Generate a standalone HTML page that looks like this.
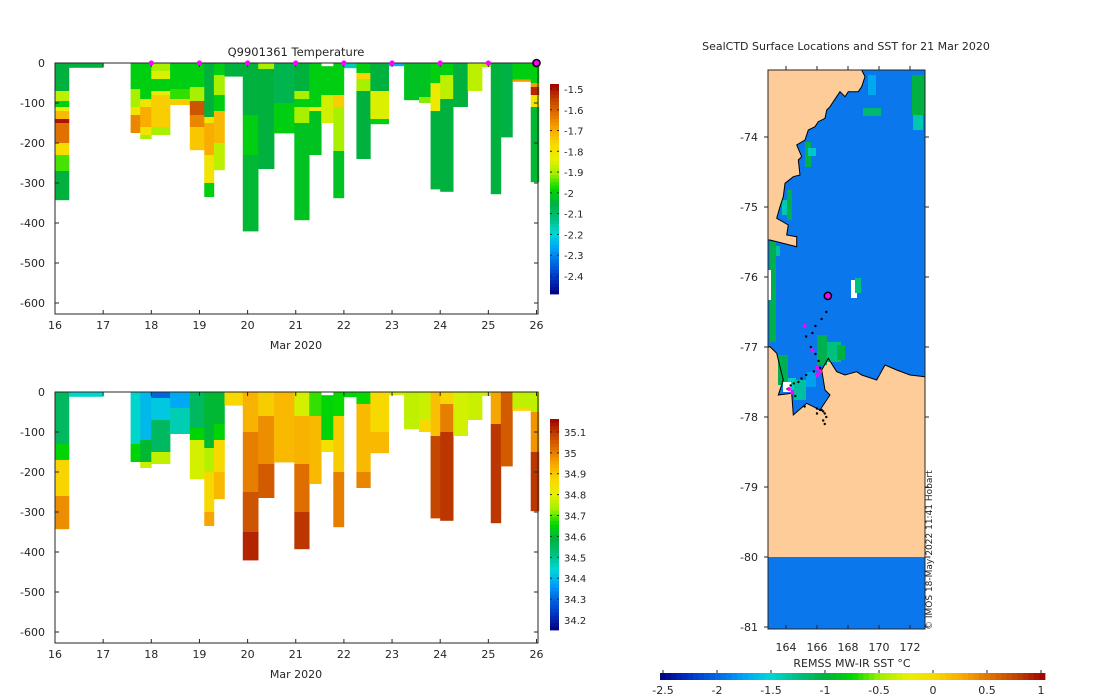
<!DOCTYPE html>
<html><head><meta charset="utf-8"><style>
body{margin:0;background:#fff;overflow:hidden;}
svg{display:block;font-family:"DejaVu Sans","Liberation Sans",sans-serif;}
</style></head><body>
<svg id="fig" width="1100" height="700" viewBox="0 0 1100 700" xmlns="http://www.w3.org/2000/svg">
<rect width="1100" height="700" fill="#fff"/>
<g id="top"></g>
<g id="bot"></g>
<g id="map"></g>
<g id="hcb"></g>
</svg>
<script>
// ---- data ----
const profStart=[16.0,16.29,17.57,17.77,18.0,18.39,18.8,19.1,19.3,19.52,19.9,20.22,20.55,20.97,21.28,21.53,21.78,22.0,22.26,22.55,22.93,23.25,23.56,23.8,24.0,24.27,24.57,24.87,25.05,25.26,25.5,25.88];
const profEnd=[16.29,17.0,17.77,18.0,18.39,18.8,19.1,19.3,19.52,19.9,20.22,20.55,20.97,21.28,21.53,21.78,22.0,22.26,22.55,22.93,23.25,23.56,23.8,24.0,24.27,24.57,24.87,25.05,25.26,25.5,25.88,26.05];
const profDepth=[343,12,175,190,180,105,218,335,268,34,421,265,176,393,230,150,338,13,240,153,8,93,100,316,322,110,70,10,328,186,47,298];
const tempNodes=[
[[0,-2.05],[70,-1.88],[95,-2.0],[110,-1.83],[120,-1.72],[140,-1.5],[150,-1.62],[200,-1.78],[230,-1.95],[270,-2.05]],
[[0,-2.05]],
[[0,-2.0],[65,-1.9],[110,-1.8],[130,-1.65]],
[[0,-2.0],[90,-1.8],[110,-1.7],[160,-1.8],[180,-1.9]],
[[0,-1.9],[20,-1.85],[40,-2.0],[70,-1.82],[80,-1.75],[160,-1.9]],
[[0,-2.0],[65,-1.96],[90,-1.75]],
[[0,-2.0],[60,-1.9],[95,-1.58],[130,-1.65],[160,-1.74]],
[[0,-2.05],[135,-1.8],[150,-1.7],[230,-1.8],[300,-2.0]],
[[0,-2.0],[30,-1.9],[80,-2.0],[120,-1.72],[200,-1.88]],
[[0,-2.05]],
[[0,-2.05],[130,-2.0],[230,-2.04]],
[[0,-1.9],[15,-2.05]],
[[0,-2.07],[100,-2.0]],
[[0,-2.05],[70,-1.9],[90,-2.0],[110,-1.9],[150,-2.02]],
[[0,-2.0],[110,-1.83],[120,-2.02]],
[[8,-2.0],[80,-1.86]],
[[0,-2.0],[80,-1.75],[110,-1.9],[220,-2.02]],
[[0,-2.17]],
[[0,-2.0],[25,-1.76],[40,-1.9],[70,-2.05]],
[[0,-2.05],[70,-1.85],[140,-2.0]],
[[0,-2.25]],
[[0,-2.02]],
[[0,-2.02],[85,-1.92]],
[[0,-2.0],[50,-1.82],[120,-2.05]],
[[0,-2.0],[30,-1.88],[90,-2.05]],
[[0,-2.05]],
[[0,-1.88]],
[[0,-1.9]],
[[0,-2.05]],
[[0,-2.06]],
[[0,-2.0],[42,-1.68]],
[[0,-2.0],[50,-1.68],[60,-1.52],[80,-1.8],[110,-2.04]]
];
const salNodes=[
[[0,34.55],[130,34.65],[170,34.88],[260,34.98]],
[[0,34.45]],
[[0,34.45],[130,34.65]],
[[0,34.4],[120,34.6],[175,34.77]],
[[0,34.3],[15,34.42],[70,34.55],[150,34.76]],
[[0,34.38],[40,34.47]],
[[0,34.55],[90,34.65],[120,34.78]],
[[0,34.6],[140,34.75],[200,34.87],[300,34.95]],
[[0,34.6],[80,34.65],[120,34.87],[200,34.92]],
[[0,34.87]],
[[0,34.93],[100,35.0],[250,35.06],[350,35.12]],
[[0,34.89],[60,34.98],[180,35.05]],
[[0,34.92]],
[[0,34.78],[60,34.93],[180,35.02],[300,35.1]],
[[0,34.68],[60,34.92]],
[[8,34.65],[120,34.85]],
[[0,34.66],[60,34.89],[200,35.0]],
[[0,34.65]],
[[0,34.66],[30,34.92],[200,34.99]],
[[0,34.87],[100,34.92]],
[[0,34.78]],
[[0,34.76]],
[[0,34.77],[70,34.87]],
[[0,34.91],[110,35.08]],
[[0,34.88],[30,35.0],[100,35.1]],
[[0,34.78]],
[[0,34.77]],
[[0,34.77]],
[[0,34.95],[80,35.1]],
[[0,35.05]],
[[0,34.76],[40,34.87]],
[[0,34.76],[50,34.97],[150,35.1]]
];
const markerDays=[18,19,20,21,22,23,24,25];
const lastDay=26;
const xTickLabels=["16","17","18","19","20","21","22","23","24","25","26"];
const yTickLabels=["0","-100","-200","-300","-400","-500","-600"];
const tempCbLabels=["-1.5","-1.6","-1.7","-1.8","-1.9","-2","-2.1","-2.2","-2.3","-2.4"];
const salCbLabels=["35.1","35","34.9","34.8","34.7","34.6","34.5","34.4","34.3","34.2"];
const latLabels=["-74","-75","-76","-77","-78","-79","-80","-81"];
const lonLabels=["164","166","168","170","172"];
const sstLabels=["-2.5","-2","-1.5","-1","-0.5","0","0.5","1"];
const trackLon=[166.6,166.3,165.9,165.7,165.3,165.6,165.9,166.1,166.2,165.8,165.3,165.0,164.8,164.5,164.3,164.1,164.6,165.2,166.0,166.3,166.4,166.0,166.2,166.5,166.6,166.4,166.5];
const trackLat=[-76.5,-76.6,-76.7,-76.8,-76.85,-77.0,-77.1,-77.2,-77.3,-77.35,-77.4,-77.45,-77.5,-77.52,-77.55,-77.6,-77.7,-77.85,-77.88,-77.9,-77.92,-77.95,-77.9,-77.95,-78.0,-78.05,-78.1];
const magLon=[165.2,165.7,166.0,166.2,164.2,164.4,166.0];
const magLat=[-76.7,-77.05,-77.3,-77.35,-77.6,-77.65,-77.4];
const shipLon=166.7, shipLat=-76.27;

// ---- helpers ----
const NS="http://www.w3.org/2000/svg";
function mk(tag,attrs,parent){const e=document.createElementNS(NS,tag);for(const k in attrs)e.setAttribute(k,attrs[k]);parent.appendChild(e);return e;}
const stopsV=[-2.5,-2.25,-2.0,-1.75,-1.5,-1.25,-1.0,-0.75,-0.5,-0.25,0,0.25,0.5,0.75,1.0];
const stopsC=["#00007f","#0030c0","#0064e0","#00a0f8","#00d8d8","#00c080","#00b040","#00d800","#a0f000","#e8f000","#f8d800","#f8a800","#e07000","#c04000","#a00000"];
function hex(c){return [parseInt(c.substr(1,2),16),parseInt(c.substr(3,2),16),parseInt(c.substr(5,2),16)];}
function cmap(t){
  let v=-2.5+Math.max(0,Math.min(1,t))*3.5;
  for(let i=0;i<stopsV.length-1;i++){if(v<=stopsV[i+1]){const f=(v-stopsV[i])/(stopsV[i+1]-stopsV[i]);const a=hex(stopsC[i]),b=hex(stopsC[i+1]);return "rgb("+a.map((x,j)=>Math.round(x+(b[j]-x)*f)).join(",")+")";}}
  return stopsC[stopsC.length-1];
}
const TMIN=-2.487,TMAX=-1.476,SMIN=34.152,SMAX=35.162;

function panel(g,top,bottom,nodes,vmin,vmax,cbTop,cbBot,cbLabels,cbFirst,cbStep,name){
  const x0=55,x1=538,pxDay=(536.5-55)/10,pxM=0.4;
  const X=d=>x0+(d-16)*pxDay, Y=m=>top+m*pxM;
  for(let i=0;i<profStart.length;i++){
    const nd=nodes[i];
    for(let j=0;j<nd.length;j++){
      const d0=nd[j][0], d1=(j+1<nd.length)?nd[j+1][0]:profDepth[i];
      const r=mk("rect",{x:X(profStart[i]),y:Y(d0),width:X(profEnd[i])-X(profStart[i])+0.3,height:Math.max(0.5,(d1-d0)*pxM),fill:cmap((nd[j][1]-vmin)/(vmax-vmin))},g);
      
      
    }
  }
  const fr=mk("rect",{x:x0,y:top,width:x1-x0,height:bottom-top,fill:"none",stroke:"#262626","stroke-width":1},g);
  
  
  xTickLabels.forEach((l,i)=>{const x=X(16+i);
    mk("line",{x1:x,y1:bottom,x2:x,y2:bottom-4,stroke:"#262626"},g);mk("line",{x1:x,y1:top,x2:x,y2:top+4,stroke:"#262626"},g);
    const t=mk("text",{x:x,y:bottom+15,"font-size":"11","text-anchor":"middle",fill:"#262626"},g);t.textContent=l;
    
    
  });
  const xt=mk("text",{x:296,y:bottom+35,"font-size":"11","text-anchor":"middle",fill:"#262626"},g);xt.textContent="Mar 2020";
  
  
  yTickLabels.forEach((l,i)=>{const y=Y(i*100);
    mk("line",{x1:x0,y1:y,x2:x0+4,y2:y,stroke:"#262626"},g);mk("line",{x1:x1,y1:y,x2:x1-4,y2:y,stroke:"#262626"},g);
    const t=mk("text",{x:x0-10,y:y+4,"font-size":"11","text-anchor":"end",fill:"#262626"},g);t.textContent=l;
    
    
  });
  const cbx=550,cbw=9,n=60;
  for(let k=0;k<n;k++){const y=cbTop+(cbBot-cbTop)*k/n;const v=vmax-(vmax-vmin)*(k+0.5)/n;
    mk("rect",{x:cbx,y:y,width:cbw,height:(cbBot-cbTop)/n+0.4,fill:cmap((v-vmin)/(vmax-vmin))},g);}
  const cbf=mk("rect",{x:cbx,y:cbTop,width:cbw,height:cbBot-cbTop,fill:"none",stroke:"none"},g);
  
  
  cbLabels.forEach((l,i)=>{const v=cbFirst-i*cbStep;const y=cbTop+(vmax-v)/(vmax-vmin)*(cbBot-cbTop);
    mk("line",{x1:cbx,y1:y,x2:cbx+2,y2:y,stroke:"#262626"},g);mk("line",{x1:cbx+cbw,y1:y,x2:cbx+cbw-2,y2:y,stroke:"#262626"},g);
    const t=mk("text",{x:cbx+14,y:y+4,"font-size":"10",fill:"#262626"},g);t.textContent=l;
    
    
  });
  return {X,Y};
}
const gt=document.getElementById("top"), gb=document.getElementById("bot");
const ax=panel(gt,63,314,tempNodes,TMIN,TMAX,84,294,tempCbLabels,-1.5,0.1,"temperature");
panel(gb,392,643,salNodes,SMIN,SMAX,419,630,salCbLabels,35.1,0.1,"salinity");
const tt=mk("text",{x:296,y:56,"font-size":"11.5","text-anchor":"middle",fill:"#262626"},gt);tt.textContent="Q9901361  Temperature";


markerDays.forEach(d=>{const c=mk("circle",{cx:ax.X(d),cy:63,r:2.6,fill:"#ff00ff"},gt);
  
  });
const lm=mk("circle",{cx:ax.X(lastDay),cy:63,r:3.5,fill:"#ff00ff",stroke:"#000","stroke-width":1.6},gt);



// ---- map ----
const gm=document.getElementById("map");
const mx0=768,mx1=925,my0=70,my1=629;
const LX=lon=>786+(lon-164)*15.5, LY=lat=>137+(-74-lat)*70;
mk("rect",{x:mx0,y:my0,width:mx1-mx0,height:my1-my0,fill:"#fdcc99"},gm);
const oceanPts="861.7,70 865,76.7 861.7,86.7 858.3,91.7 848.3,91.7 845,96.7 840,91.7 833.3,101.7 830,106.7 826.7,110 825,118.3 818.3,121.7 815,126.7 808.3,130 805,140 796.7,145 801.7,156.7 798.3,160 800,175 793.3,176.7 785,183.3 783.3,196.7 780,206.7 776.7,218.3 788.3,225 786.7,235 796.7,236.7 796.7,246.7 770,240 768,240 768,347 770,346.7 776.7,353.3 780,366.7 783.3,380 778.3,395 791.7,393.3 793.3,415 806.7,403.3 820,410 830,395 825,390 821.7,370 828.3,358.3 836.7,371.7 845,375 856.7,371.7 861.7,375 876.7,380 885,365 896.7,370 910,375 925,376.7 925,70";
const oc=mk("polygon",{points:oceanPts,fill:"#0a78ec",stroke:"none"},gm);


[[770,242,6,100,"#00b050"],[776,246,4,10,"#00c0a0"],[768,270,3,30,"#fff"],[787,190,5,30,"#00b050"],[782,200,5,15,"#00c8b0"],[805,142,6,25,"#00b050"],[808,148,8,8,"#00c8c8"],[868,75,8,20,"#00a8f0"],[863,108,18,8,"#00b870"],[912,75,13,40,"#00b040"],[913,115,10,15,"#00c8b0"],[851,280,6,18,"#fff"],[855,278,6,15,"#00c080"],[817,335,10,30,"#00b050"],[827,342,14,20,"#00c080"],[837,345,8,15,"#00b040"],[778,355,10,30,"#00b050"],[788,378,8,12,"#00d0c0"],[794,380,12,20,"#00c0a0"],[806,372,10,15,"#00a0f0"],[783,382,8,10,"#fff"],[768,557,157,72,"#0a78ec"]].forEach(r=>{
  const e=mk("rect",{x:r[0],y:r[1],width:r[2],height:r[3],fill:r[4]},gm);
  
  
});
const coast=mk("polyline",{points:oceanPts.replace(/ 925,70$/,""),fill:"none",stroke:"#000","stroke-width":1},gm);


trackLon.forEach((lo,i)=>{const c=mk("circle",{cx:LX(lo),cy:LY(trackLat[i]),r:1.2,fill:"#000"},gm);
  
  });
magLon.forEach((lo,i)=>{const c=mk("circle",{cx:LX(lo),cy:LY(magLat[i]),r:2,fill:"#ff00ff"},gm);
  
  });
const sh=mk("circle",{cx:LX(shipLon),cy:LY(shipLat),r:3.6,fill:"#ff00ff",stroke:"#000","stroke-width":1.5},gm);


const mf=mk("rect",{x:mx0,y:my0,width:mx1-mx0,height:my1-my0,fill:"none",stroke:"#262626"},gm);


latLabels.forEach((l,i)=>{const y=137+i*70;
  mk("line",{x1:mx0,y1:y,x2:mx0-4,y2:y,stroke:"#262626"},gm);mk("line",{x1:mx1,y1:y,x2:mx1+4,y2:y,stroke:"#262626"},gm);
  const t=mk("text",{x:mx0-10,y:y+4,"font-size":"11","text-anchor":"end",fill:"#262626"},gm);t.textContent=l;
  
  });
lonLabels.forEach((l,i)=>{const x=786+i*31;
  mk("line",{x1:x,y1:my0,x2:x,y2:my0-4,stroke:"#262626"},gm);mk("line",{x1:x,y1:my1,x2:x,y2:my1-4,stroke:"#262626"},gm);
  const t=mk("text",{x:x,y:651,"font-size":"11","text-anchor":"middle",fill:"#262626"},gm);t.textContent=l;
  
  });
const mt=mk("text",{x:846,y:50,"font-size":"11","text-anchor":"middle",fill:"#262626"},gm);mt.textContent="SealCTD Surface Locations and SST for 21 Mar 2020";


const cp=mk("text",{x:0,y:0,"font-size":"9","text-anchor":"start",fill:"#262626",transform:"translate(932,630) rotate(-90)"},gm);cp.textContent="© IMOS 18-May-2022 11:41 Hobart";



// ---- horizontal colorbar ----
const gh=document.getElementById("hcb");
const hx0=660,hx1=1045,hy=673,hh=7;
for(let k=0;k<70;k++){const x=hx0+(hx1-hx0)*k/70;mk("rect",{x:x,y:hy,width:(hx1-hx0)/70+0.4,height:hh,fill:cmap((k+0.5)/70)},gh);}
sstLabels.forEach((l,i)=>{const x=663+i*54;
  mk("line",{x1:x,y1:hy,x2:x,y2:hy-3,stroke:"#262626"},gh);
  const t=mk("text",{x:x,y:694,"font-size":"11","text-anchor":"middle",fill:"#262626"},gh);t.textContent=l;
  
  });
const ht=mk("text",{x:852,y:667,"font-size":"11","text-anchor":"middle",fill:"#262626"},gh);ht.textContent="REMSS MW-IR SST °C";


</script>
</body></html>
